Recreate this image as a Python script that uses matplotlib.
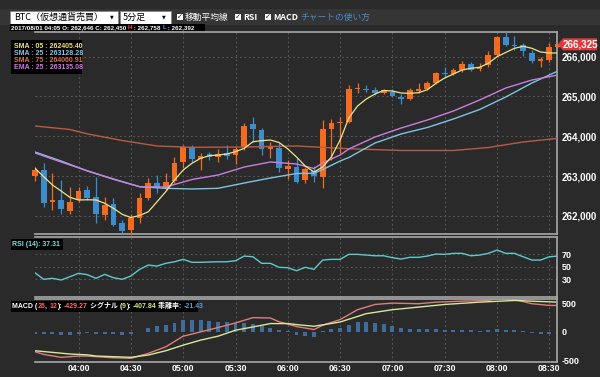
import numpy as np
import pandas as pd
import matplotlib
matplotlib.use("Agg")
import matplotlib.pyplot as plt
from matplotlib.patches import Rectangle, Polygon
from matplotlib.text import Annotation

# 5-minute candles, BTC 2017/08/01 03:35 - 08:35
times = pd.date_range("2017-08-01 03:35", periods=61, freq="5min")

opens = [263000, 263150, 262350, 262400, 262130, 262400, 262646, 262480, 262010, 262310,
         261810, 261640, 261950, 262440, 262820, 262700, 262880, 263360, 263720, 263430,
         263545, 263490, 263575, 263530, 263720, 264300, 264160, 263675, 263700, 263170,
         263235, 262900, 263135, 262975, 264190, 264340, 264370, 265190, 265195, 265165,
         265090, 265125, 264985, 264935, 265150, 265180, 265345, 265600, 265560, 265665,
         265815, 265685, 265790, 266045, 266490, 266305, 266295, 266105, 265890, 265925,
         266250]
highs = [263220, 263320, 263070, 262900, 262730, 262730, 262758, 262980, 262480, 262440,
         261900, 262060, 262570, 262950, 263030, 263080, 263490, 263780, 263780, 263570,
         263610, 263670, 263780, 263740, 264330, 264490, 264200, 263865, 263830, 263405,
         263455, 263220, 263255, 264420, 264425, 264475, 265290, 265340, 265290, 265245,
         265190, 265180, 265065, 265215, 265330, 265395, 265625, 265735, 265710, 265900,
         265860, 265835, 266150, 266520, 266630, 266520, 266340, 266170, 266000, 266350,
         266330]
lows = [262880, 262230, 262160, 262060, 262060, 262350, 262392, 261810, 261900, 261745,
        261560, 261520, 261820, 262400, 262570, 262650, 262820, 263200, 263360, 263150,
        263400, 263360, 263420, 263300, 263655, 263865, 263530, 263445, 263110, 262920,
        262835, 262835, 262860, 262700, 263405, 263570, 264325, 265090, 265120, 265040,
        265065, 264985, 264810, 264910, 265095, 265165, 265315, 265500, 265540, 265625,
        265650, 265650, 265750, 266020, 266270, 266170, 266020, 265835, 265735, 265875,
        266245]
closes = [263150, 262330, 262400, 262170, 262350, 262620, 262450, 262050, 262280, 261770,
          261630, 261940, 262440, 262830, 262690, 262860, 263340, 263720, 263420, 263505,
          263490, 263555, 263505, 263675, 264260, 264185, 263675, 263725, 263195, 263255,
          262860, 263170, 262995, 264175, 264340, 264360, 265180, 265205, 265165, 265095,
          265165, 265015, 264925, 265165, 265190, 265330, 265600, 265565, 265665, 265815,
          265665, 265750, 266045, 266495, 266295, 266280, 266150, 265900, 265935, 266235,
          266325]

sma5 = [263196, 262985, 262776, 262625, 262467, 262399, 262405.40, 262400, 262316, 262190,
        262040, 261959, 262009, 262105, 262356, 262608, 262902, 263153, 263321, 263447,
        263512, 263530, 263555, 263613, 263698, 263864, 263889, 263907, 263844, 263681,
        263480, 263253, 263103, 263228, 263480, 263907, 264460, 264761, 264937, 265063,
        265151, 265138, 265088, 265080, 265095, 265171, 265332, 265465, 265565, 265666,
        265709, 265734, 265834, 266000, 266106, 266211, 266261, 266211, 266118, 266093,
        266093]

ma_idx = [0, 3, 6, 9, 12, 15, 18, 21, 24, 27, 30, 32, 33, 35, 36, 39, 42, 45, 48, 51, 54, 57, 60]
sma25 = [263605, 263379, 263128.28, 262927, 262733, 262693, 262676, 262693, 262826, 262952,
         263065, 263070, 263165, 263379, 263467, 263831, 264058, 264221, 264435, 264673,
         264987, 265339, 265641]
ema25 = [263580, 263354, 263135.08, 262919, 262733, 262726, 262914, 263027, 263228, 263354,
         263304, 263191, 263329, 263530, 263681, 263982, 264208, 264409, 264636, 264912,
         265213, 265414, 265540]

sma75_idx = [0, 4, 6, 10, 14, 18, 24, 30, 36, 42, 48, 52, 56, 60]
sma75 = [264259, 264171, 264060.91, 263894, 263756, 263723, 263731, 263756, 263688, 263643,
         263643, 263718, 263857, 263949]

rsi14 = [40.4, 30, 31.6, 28.9, 34.1, 39.5, 37.31, 31.6, 37.9, 32.5,
         30, 35.2, 45.8, 52.6, 51, 55.3, 57.8, 61.6, 56.9, 56.9,
         57.4, 57.8, 57.8, 59.4, 66.8, 65.7, 55.3, 55.3, 49, 48.3,
         43.6, 49, 45.8, 60.5, 61.6, 61.6, 69.5, 69.5, 68.4, 67.3,
         67.3, 64.2, 62.1, 64.8, 64.8, 66.8, 70, 69.5, 71.1, 71.1,
         67.3, 68.4, 71.1, 76.3, 71.1, 71.1, 65.7, 60.5, 60.5, 65.7,
         66.8]

macd_idx = [0, 1, 3, 5, 6, 8, 9, 11, 13, 15, 17, 19, 21, 23, 25, 27, 28, 29, 30, 32,
            33, 35, 37, 39, 41, 44, 46, 49, 52, 53, 55, 57, 59, 60]
macd = [-353, -400, -452, -429, -429.27, -450, -459, -470, -381, -265, -76, 0, 78, 159, 254,
        247, 180, 140, 95, 42, 118, 219, 395, 488, 512, 501, 529, 547, 559, 589, 577, 501,
        471, 471]
signal_idx = [0, 4, 6, 7, 11, 13, 15, 17, 19, 21, 23, 25, 27, 29, 30, 32, 35, 38, 41, 44,
              47, 51, 55, 57, 60]
signal = [-335, -393, -407.84, -429, -452, -411, -335, -235, -146, -76, 30, 88, 148, 148, 130,
          100, 176, 324, 395, 441, 488, 529, 559, 547, 529]
hist = [-29, -30, -40, -60, -60, -30, -21.43, -30, -30, -40,
        -50, -40, -10, 70, 100, 129, 159, 206, 206, 206,
        194, 176, 176, 165, 165, 147, 100, 76, 41, 12,
        -59, -76, -88, 10, 47, 76, 129, 176, 176, 159,
        135, 100, 76, 59, 53, 53, 47, 41, 41, 35,
        29, 24, 29, 47, 41, 29, 12, -20, -40, -40,
        -30]

last_price = 266325

BG = "#2a2a2a"
UP = "#f26b21"
DOWN = "#3d8ccc"
W, H = 600, 377

plt.rcParams['font.family'] = ['Noto Sans CJK JP', 'DejaVu Sans']
fig = plt.figure(figsize=(W / 100, H / 100), dpi=100, facecolor=BG)


def fx(px):
    return px / W


def fy(py):
    return 1 - py / H


x = np.arange(len(times))
tick_pos = [i for i, t in enumerate(times) if t.minute % 30 == 0]
tick_lbl = [times[i].strftime("%H:%M") for i in tick_pos]
LAT = ['Liberation Sans', 'Noto Sans CJK JP']


def make_panel(top, bottom):
    ax = fig.add_axes([fx(35), fy(bottom), fx(557) - fx(35), fy(top) - fy(bottom)])
    ax.set_facecolor(BG)
    ax.set_xlim(0, 59.88)
    for side in ("top", "right", "bottom"):
        ax.spines[side].set_color("#a8a8a8")
        ax.spines[side].set_linewidth(1.2)
    ax.spines["left"].set_visible(False)
    ax.yaxis.tick_right()
    ax.tick_params(length=0, colors="white", pad=3.6)
    ax.set_xticks(tick_pos)
    ax.tick_params(axis="x", labelbottom=False)
    ax.grid(True, color="#5a5a5a", linestyle=(0, (1.5, 2.5)), linewidth=0.8)
    ax.set_axisbelow(True)
    return ax


# main price panel
ax1 = make_panel(31.7, 234)
ax1.set_ylim(261545, 266628)
yt = [262000, 263000, 264000, 265000, 266000]
ax1.set_yticks(yt)
ax1.set_yticklabels([f"{v:,}" for v in yt], fontfamily=LAT, fontweight="bold", fontsize=7)

o = np.array(opens)
c = np.array(closes)
cols = np.where(c >= o, UP, DOWN)
ax1.vlines(x, lows, highs, colors=cols, lw=0.9, zorder=3, clip_on=False)
ax1.bar(x, np.maximum(np.abs(c - o), 25), bottom=np.minimum(o, c), width=0.65,
        color=cols, zorder=3, clip_on=False)

ax1.plot(sma75_idx, sma75, color="#b85c44", lw=1, zorder=4)
ax1.plot(ma_idx, sma25, color="#7cc4e4", lw=1, zorder=4)
ax1.plot(ma_idx, ema25, color="#c77ee0", lw=1, zorder=4)
ax1.plot(x, sma5, color="#ede58a", lw=0.9, zorder=5)

# RSI panel
ax2 = make_panel(237, 297)
ax2.set_ylim(2, 97)
ax2.set_yticks([30, 50, 70])
ax2.set_yticklabels(["30", "50", "70"], fontfamily=LAT, fontweight="bold", fontsize=6.5)
ax2.plot(x, rsi14, color="#5ccbcb", lw=1)

# MACD panel
ax3 = make_panel(299, 362)
ax3.set_ylim(-535, 585)
ax3.set_yticks([-500, 0, 500])
ax3.set_yticklabels(["-500", "0", "500"], fontfamily=LAT, fontweight="bold", fontsize=6.5)
ax3.yaxis.grid(False)
ax3.bar(x, hist, width=0.45, color="#3f6c9a")
ax3.plot(macd_idx, macd, color="#e07c7c", lw=1)
ax3.plot(signal_idx, signal, color="#d6e89c", lw=1)
ax3.tick_params(axis="x", labelbottom=True, pad=1.5)
ax3.set_xticklabels(tick_lbl, fontfamily=LAT, fontweight="bold", fontsize=6.3)


def rect(x0, y0, x1, y1, fc, ec="none", lw=0):
    fig.add_artist(Rectangle((fx(x0), fy(y1)), fx(x1) - fx(x0), fy(y0) - fy(y1),
                             transform=fig.transFigure, facecolor=fc, edgecolor=ec, lw=lw))


def chain(x0, y0, pieces, size, weight="bold"):
    t = fig.text(fx(x0), fy(y0), pieces[0][0], color=pieces[0][1], fontsize=size,
                 fontfamily=LAT, fontweight=weight, va="center", ha="left")
    for s, col in pieces[1:]:
        t = fig.add_artist(Annotation(s, xy=(1, 0.5), xycoords=t, va="center", ha="left",
                                      color=col, fontsize=size, fontfamily=LAT,
                                      fontweight=weight))


# header
rect(0, 9, 600, 25, "#353535")
rect(10, 10.5, 118, 23.5, "white", "#888888", 0.6)
fig.text(fx(14), fy(17.2), "BTC（仮想通貨売買）", color="black", fontsize=6.5, va="center")
fig.text(fx(110), fy(17.2), "▼", color="black", fontsize=3.5, va="center", family="DejaVu Sans")
rect(120, 10.5, 171, 23.5, "white", "#888888", 0.6)
fig.text(fx(123), fy(17.2), "5分足", color="black", fontsize=6.5, va="center")
fig.text(fx(162), fy(17.2), "▼", color="black", fontsize=3.5, va="center", family="DejaVu Sans")
for bx, lbl in [(177, "移動平均線"), (235, "RSI"), (265, "MACD")]:
    rect(bx, 14, bx + 6, 20, "white")
    fig.text(fx(bx + 3), fy(17), "✓", color="#222222", fontsize=5, ha="center", va="center",
             family="DejaVu Sans", fontweight="bold")
    fig.text(fx(bx + 8), fy(17.2), lbl, color="white", fontsize=6.3, va="center",
             fontweight="bold" if lbl != "移動平均線" else "normal")
fig.text(fx(300), fy(17.2), "チャートの使い方", color="#4a8ccc", fontsize=6.3, va="center")

# OHLC readout
rect(10, 24, 205, 30.5, "black")
chain(11, 27.2, [("2017/08/01 04:05 O: 262,646 C: 262,450 ", "white"), ("H", "#ff4040"),
                 (" : 262,758 ", "white"), ("L", "#4aa0ff"), (" : 262,392", "white")], 4.5)

# moving average legend
rect(11, 40, 82, 74, "black")
leg = [("SMA : 05 : 262405.40", "#f3e27a"), ("SMA : 25 : 263128.28", "#86c8ea"),
       ("SMA : 75 : 264060.91", "#e07050"), ("EMA : 25 : 263135.08", "#d57ae8")]
for k, (s, col) in enumerate(leg):
    fig.text(fx(14), fy(46 + 7.2 * k), s, color=col, fontsize=5, fontfamily=LAT,
             fontweight="bold", va="center")

# RSI / MACD readouts
rect(11, 239, 63, 249.5, "black")
fig.text(fx(12), fy(244), "RSI (14): 37.31", color="#7fe0e0", fontsize=5, fontfamily=LAT,
         fontweight="bold", va="center")
rect(11, 300.5, 198, 311.5, "black")
chain(12, 306, [("MACD (", "white"), ("26", "#ff6666"), (", ", "white"), ("12", "#ff6666"),
                ("): ", "white"), ("-429.27", "#ff7070"), (" シグナル (", "white"),
                ("9", "#c8f080"), ("): ", "white"), ("-407.84", "#c8f080"),
                (" 乖離率: ", "white"), ("-21.43", "#5a9ad0")], 5)

# last price tag
fig.add_artist(Polygon([(fx(558), fy(44.3)), (fx(563), fy(38.3)), (fx(597), fy(38.3)),
                        (fx(597), fy(50.3)), (fx(563), fy(50.3))], closed=True,
                       transform=fig.transFigure, facecolor="#e0393e", edgecolor="none"))
fig.text(fx(580), fy(44.5), f"{last_price:,}", color="white", fontsize=7, fontfamily=LAT,
         fontweight="bold", ha="center", va="center")

fig.savefig("out.png", dpi=100, facecolor=BG)
